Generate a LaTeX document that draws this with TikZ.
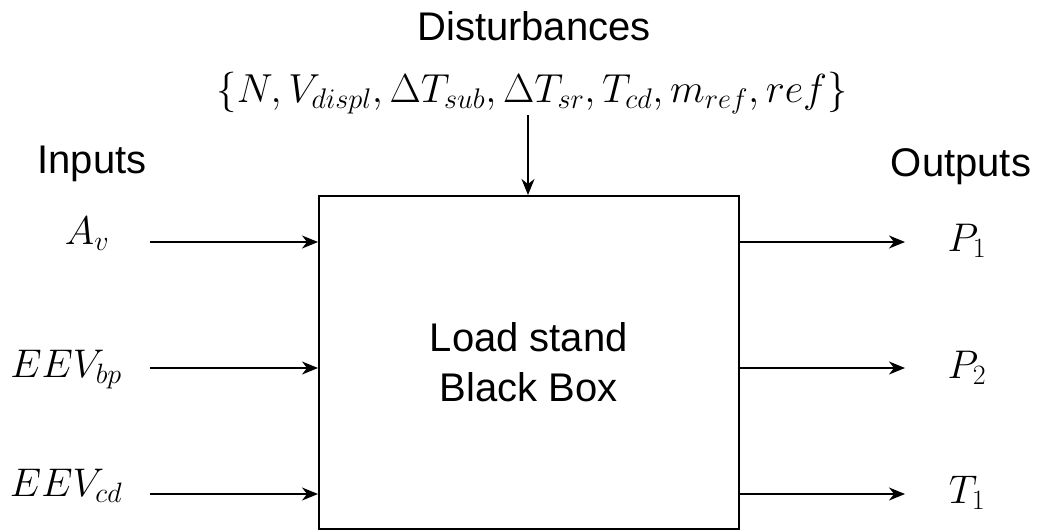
\RequirePackage{fix-cm}
\documentclass[tikz,border=0pt]{standalone}
\usepackage[no-math]{fontspec}
\setmainfont{Liberation Sans}
\usetikzlibrary{arrows.meta}
\begin{document}
\begin{tikzpicture}[x=1pt,y=-1pt,
  txt/.style={font=\fontsize{40}{50}\selectfont, anchor=base, inner sep=0pt},
  mlbl/.style={font=\fontsize{40}{50}\selectfont, anchor=base, inner sep=0pt},
  frm/.style={font=\fontsize{40.5}{48}\selectfont, anchor=base, inner sep=0pt},
  conn/.style={line width=1.5pt, -{Stealth[length=16pt,width=13pt,inset=5pt]}},
  blackbox/.style={draw, line width=1.5pt, minimum width=420pt, minimum height=333pt,
     inner sep=0pt, align=center, font=\fontsize{40}{50}\selectfont}
]
\useasboundingbox (0,0) rectangle (1039,531);
\node[blackbox, anchor=north west] (box) at (318,195) {Load stand\\Black Box};

\node[txt] (dist) at (534,40) {Disturbances};
\node[frm] (dset) at (532,102) {$\{N,V_{displ},\Delta T_{sub},\Delta T_{sr},T_{cd},m_{ref},ref\}$};
\node[txt] (inl) at (92,173) {Inputs};
\node[txt] (outl) at (961,176) {Outputs};

\node[mlbl] (av) at (87,244) {$A_v$};
\node[mlbl] (ebp) at (66,377) {$EEV_{bp}$};
\node[mlbl] (ecd) at (66,496) {$EEV_{cd}$};
\node[mlbl] (p1) at (967,251) {$P_1$};
\node[mlbl] (p2) at (967,378) {$P_2$};
\node[mlbl] (t1) at (967,503) {$T_1$};

\coordinate (in1) at (150,242);
\coordinate (in2) at (150,368);
\coordinate (in3) at (150,494);
\coordinate (out1) at (905,242);
\coordinate (out2) at (905,368);
\coordinate (out3) at (905,494);
\coordinate (dtop) at (528,115);

\draw[conn] (in1) -- (in1 -| box.west);
\draw[conn] (in2) -- (in2 -| box.west);
\draw[conn] (in3) -- (in3 -| box.west);
\draw[conn] (out1 -| box.east) -- (out1);
\draw[conn] (out2 -| box.east) -- (out2);
\draw[conn] (out3 -| box.east) -- (out3);
\draw[conn] (dtop) -- (dtop |- box.north);
\end{tikzpicture}
\end{document}
